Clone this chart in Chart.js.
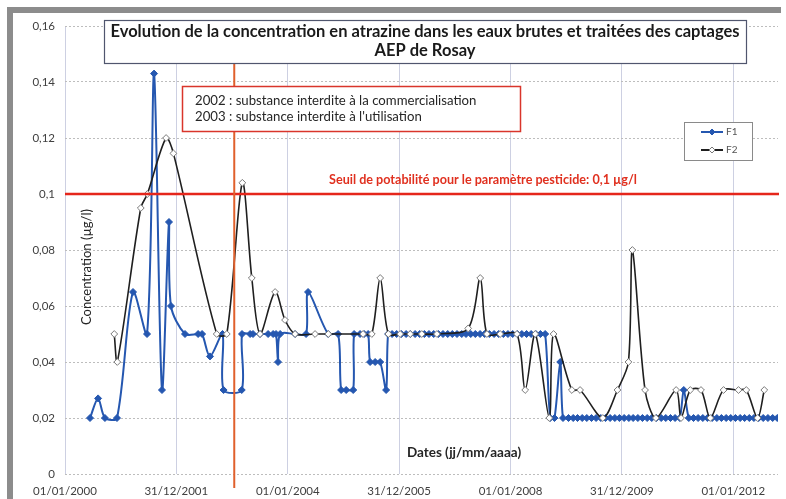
<!DOCTYPE html>
<html><head><meta charset="utf-8">
<script src="https://cdn.jsdelivr.net/npm/chart.js@4.4.1/dist/chart.umd.min.js"></script>
<style>html,body{margin:0;padding:0;background:#fff;}canvas{display:block;}</style>
</head><body>
<canvas id="c" width="786" height="499"></canvas>
<script>
const chartTitle = ["Evolution de la concentration en atrazine dans les eaux brutes et traitées des captages", "AEP de Rosay"];
const noteLines = ["2002 : substance interdite à la commercialisation", "2003 : substance interdite à l'utilisation"];
const thresholdValue = 0.1;
const thresholdLabel = "Seuil de potabilité pour le paramètre pesticide: 0,1 µg/l";
const banDate = "2003-01-15";
const yAxisTitle = "Concentration (µg/l)";
const xAxisTitle = "Dates (jj/mm/aaaa)";
const seriesNames = ["F1", "F2"];
const xTickLabels = ["01/01/2000", "31/12/2001", "01/01/2004", "31/12/2005", "01/01/2008", "31/12/2009", "01/01/2012"];
const yTickLabels = ["0", "0,02", "0,04", "0,06", "0,08", "0,1", "0,12", "0,14", "0,16"];
const xMinDate = "2000-01-01";
const xMaxDate = "2012-10-20";

const f1Dates = [
"2000-06-13","2000-08-05","2000-09-19","2000-12-07","2001-03-22","2001-06-22","2001-08-07","2001-09-28","2001-11-13","2001-11-26",
"2002-02-26","2002-05-23","2002-06-18","2002-08-09","2002-10-30","2002-11-06","2003-03-05","2003-03-07","2003-04-29","2003-05-18",
"2003-07-03","2003-08-25","2003-09-27","2003-10-16","2003-10-29","2003-11-12","2004-02-18","2004-04-30","2004-05-13","2004-09-22",
"2004-11-26","2004-12-16","2005-01-18","2005-03-05","2005-03-11","2005-04-19","2005-05-16","2005-06-11","2005-06-24","2005-07-27",
"2005-08-29","2005-10-07","2005-10-20","2005-11-15","2005-12-15",
"2006-01-15","2006-02-15","2006-03-15","2006-04-15","2006-05-15","2006-06-15","2006-07-15","2006-08-15","2006-09-15","2006-10-15","2006-11-15","2006-12-15",
"2007-01-15","2007-02-15","2007-03-15","2007-04-15","2007-05-15","2007-06-15","2007-07-15","2007-08-15","2007-09-15","2007-10-15","2007-11-15","2007-12-15",
"2008-01-15","2008-02-15","2008-03-15","2008-04-15","2008-05-15","2008-06-15","2008-07-15","2008-08-15",
"2008-09-17","2008-10-15","2008-11-22","2008-12-10",
"2009-01-15","2009-02-15","2009-03-15","2009-04-15","2009-05-15","2009-06-15","2009-07-15","2009-08-15","2009-09-15","2009-10-15","2009-11-15","2009-12-15",
"2010-01-15","2010-02-15","2010-03-15","2010-04-15","2010-05-15","2010-06-15","2010-07-15","2010-08-15","2010-09-15","2010-10-15","2010-11-15","2010-12-15",
"2011-01-15","2011-02-10","2011-03-15","2011-04-15","2011-05-15","2011-06-15","2011-07-15","2011-08-15","2011-09-15","2011-10-15","2011-11-15","2011-12-15",
"2012-01-15","2012-02-15","2012-03-15","2012-04-15","2012-05-15","2012-06-15","2012-07-15","2012-08-15","2012-09-15","2012-10-15"
];
const f1Values = [
0.02,0.027,0.02,0.02,0.065,0.05,0.143,0.03,0.09,0.06,
0.05,0.05,0.05,0.042,0.05,0.03,0.03,0.05,0.05,0.05,
0.05,0.05,0.05,0.05,0.04,0.05,0.05,0.05,0.065,0.05,
0.05,0.03,0.03,0.03,0.05,0.05,0.05,0.05,0.04,0.04,
0.04,0.03,0.05,0.05,0.05,
0.05,0.05,0.05,0.05,0.05,0.05,0.05,0.05,0.05,0.05,0.05,0.05,
0.05,0.05,0.05,0.05,0.05,0.05,0.05,0.05,0.05,0.05,0.05,0.05,
0.05,0.05,0.05,0.05,0.05,0.05,0.05,0.05,
0.02,0.02,0.04,0.02,
0.02,0.02,0.02,0.02,0.02,0.02,0.02,0.02,0.02,0.02,0.02,0.02,
0.02,0.02,0.02,0.02,0.02,0.02,0.02,0.02,0.02,0.02,0.02,0.02,
0.02,0.03,0.02,0.02,0.02,0.02,0.02,0.02,0.02,0.02,0.02,0.02,
0.02,0.02,0.02,0.02,0.02,0.02,0.02,0.02,0.02,0.02
];

const f2Dates = [
"2000-11-19","2000-12-09","2001-05-12","2001-06-24","2001-10-25","2001-12-12","2002-09-22","2002-11-27","2003-03-09","2003-05-10",
"2003-07-03","2003-10-10","2003-12-14","2004-02-18","2004-06-28","2004-09-23","2005-05-09","2005-07-05","2005-08-29","2005-10-22",
"2006-01-07","2006-03-14","2006-05-29","2006-09-05","2007-03-29","2007-06-16","2007-07-30","2007-10-25","2008-02-12","2008-04-06",
"2008-06-11","2008-09-11","2008-10-09","2009-02-06","2009-04-01","2009-08-28","2009-12-02","2010-02-12","2010-03-10","2010-06-01",
"2010-08-11","2010-12-22","2011-01-23","2011-03-25","2011-06-03","2011-08-03","2011-10-29","2012-02-04","2012-03-26","2012-06-08",
"2012-07-22"
];
const f2Values = [
0.05,0.04,0.095,0.1,0.12,0.1145,0.05,0.05,0.104,0.07,
0.05,0.065,0.055,0.05,0.05,0.05,0.05,0.05,0.07,0.05,
0.05,0.05,0.05,0.05,0.052,0.07,0.05,0.05,0.05,0.03,
0.05,0.02,0.05,0.03,0.03,0.02,0.03,0.04,0.08,0.03,
0.02,0.03,0.02,0.03,0.03,0.02,0.03,0.03,0.03,0.02,
0.03
];

const DAY = 86400000;
function isoDay(s) { const p = s.split('-').map(Number); return (Date.UTC(p[0], p[1]-1, p[2]) - Date.UTC(2000,0,1)) / DAY; }
function frDay(s) { const p = s.split('/').map(Number); return (Date.UTC(p[2], p[1]-1, p[0]) - Date.UTC(2000,0,1)) / DAY; }
function pts(dates, vals) { return dates.map((d, i) => ({x: isoDay(d), y: vals[i]})); }

const FONT = 'Lato, "Open Sans", sans-serif';

const decor = {
  id: 'decor',
  beforeDraw(chart) {
    const ctx = chart.ctx;
    ctx.save();
    ctx.fillStyle = '#ffffff'; ctx.fillRect(0, 0, chart.width, chart.height);
    ctx.fillStyle = '#8c8c8c';
    ctx.fillRect(7, 7, 774, 6);
    ctx.fillRect(7, 7, 6, 492);
    ctx.restore();
  },
  afterDatasetsDraw(chart) {
    const {ctx, chartArea: a, scales: {x, y}} = chart;
    ctx.save();
    const ty = y.getPixelForValue(thresholdValue);
    ctx.strokeStyle = '#e5261b'; ctx.lineWidth = 2.5;
    ctx.beginPath(); ctx.moveTo(a.left, ty); ctx.lineTo(a.right + 1, ty); ctx.stroke();
    const vx = x.getPixelForValue(isoDay(banDate));
    ctx.strokeStyle = '#e0602c'; ctx.lineWidth = 2;
    ctx.beginPath(); ctx.moveTo(vx, 60); ctx.lineTo(vx, 488); ctx.stroke();
    ctx.restore();
  },
  afterDraw(chart) {
    const {ctx, chartArea: a, scales: {x, y}} = chart;
    ctx.save();
    // title box
    ctx.fillStyle = '#fff'; ctx.fillRect(104, 20, 642, 43);
    ctx.strokeStyle = '#50566e'; ctx.lineWidth = 1.2; ctx.strokeRect(104.5, 20.5, 642, 43);
    ctx.fillStyle = '#1a1a1a'; ctx.textAlign = 'center'; ctx.textBaseline = 'middle';
    ctx.font = 'bold 16.5px ' + FONT;
    ctx.fillText(chartTitle[0], 425, 32);
    ctx.fillText(chartTitle[1], 425, 51);
    // note box
    ctx.fillStyle = '#fff'; ctx.fillRect(182, 86, 338, 45);
    ctx.strokeStyle = '#d9352b'; ctx.lineWidth = 1.5; ctx.strokeRect(182.5, 86.5, 338, 45);
    ctx.fillStyle = '#262626'; ctx.textAlign = 'left'; ctx.font = '13.2px ' + FONT;
    ctx.fillText(noteLines[0], 195, 101);
    ctx.fillText(noteLines[1], 195, 117);
    // threshold label
    ctx.fillStyle = '#e0301f'; ctx.textAlign = 'center'; ctx.font = 'bold 12.6px ' + FONT;
    ctx.fillText(thresholdLabel, 483, y.getPixelForValue(thresholdValue) - 14);
    // axis titles
    ctx.fillStyle = '#262626'; ctx.font = 'bold 13.5px ' + FONT;
    ctx.fillText(xAxisTitle, 464, 453);
    ctx.save();
    ctx.translate(87, 267); ctx.rotate(-Math.PI / 2);
    ctx.font = '13px ' + FONT; ctx.fillText(yAxisTitle, 0, 0);
    ctx.restore();
    // legend
    ctx.fillStyle = '#fff'; ctx.fillRect(684, 122, 68, 38);
    ctx.strokeStyle = '#8a8a8a'; ctx.lineWidth = 1; ctx.strokeRect(684.5, 122.5, 68, 38);
    const ds = chart.data.datasets;
    [132, 150].forEach((ly, i) => {
      const d = ds[i];
      ctx.strokeStyle = d.borderColor; ctx.lineWidth = 2;
      ctx.beginPath(); ctx.moveTo(701, ly); ctx.lineTo(723, ly); ctx.stroke();
      ctx.beginPath();
      ctx.moveTo(712, ly - 3); ctx.lineTo(715, ly); ctx.lineTo(712, ly + 3); ctx.lineTo(709, ly); ctx.closePath();
      ctx.fillStyle = d.pointBackgroundColor; ctx.fill();
      ctx.strokeStyle = d.pointBorderColor; ctx.lineWidth = 1; ctx.stroke();
      ctx.fillStyle = '#555'; ctx.textAlign = 'left'; ctx.font = '10px ' + FONT;
      ctx.fillText(seriesNames[i], 726, ly);
    });
    ctx.restore();
  }
};

new Chart(document.getElementById('c'), {
  type: 'line',
  data: {
    datasets: [
      { label: seriesNames[0], data: pts(f1Dates, f1Values), order: 1,
        borderColor: '#2557b0', borderWidth: 2, tension: 0.3,
        pointStyle: 'rectRot', pointRadius: 3.5, pointBackgroundColor: '#2557b0', pointBorderColor: '#2557b0', pointBorderWidth: 1 },
      { label: seriesNames[1], data: pts(f2Dates, f2Values), order: 0,
        borderColor: '#1f1f1f', borderWidth: 1.6, tension: 0.3,
        pointStyle: 'rectRot', pointRadius: 3.4, pointBackgroundColor: '#ffffff', pointBorderColor: '#7a7a7a', pointBorderWidth: 1 }
    ]
  },
  options: {
    responsive: false, animation: false, devicePixelRatio: 1,
    layout: { padding: { top: 26, right: 8, left: 0, bottom: 0 } },
    plugins: { legend: { display: false }, tooltip: { enabled: false } },
    scales: {
      x: {
        type: 'linear', min: isoDay(xMinDate), max: isoDay(xMaxDate),
        afterFit(s) { s.height = 25; },
        afterBuildTicks(s) { s.ticks = xTickLabels.map(t => ({ value: frDay(t) })); },
        grid: { color: '#cdd0e2', lineWidth: 1, drawTicks: false },
        border: { display: false },
        ticks: { autoSkip: false, maxRotation: 0, padding: 10, color: '#404040', font: { family: FONT, size: 11.5 },
          callback: (v, i) => xTickLabels[i] }
      },
      y: {
        min: 0, max: 0.16,
        afterFit(s) { s.width = 65; },
        grid: { color: '#bdbdbd', lineWidth: 1, drawTicks: false },
        border: { display: false, dash: [2, 2] },
        ticks: { stepSize: 0.02, padding: 10, color: '#404040', font: { family: FONT, size: 11.5 },
          callback: (v, i) => yTickLabels[i] }
      }
    }
  },
  plugins: [decor]
});
</script>
</body></html>
